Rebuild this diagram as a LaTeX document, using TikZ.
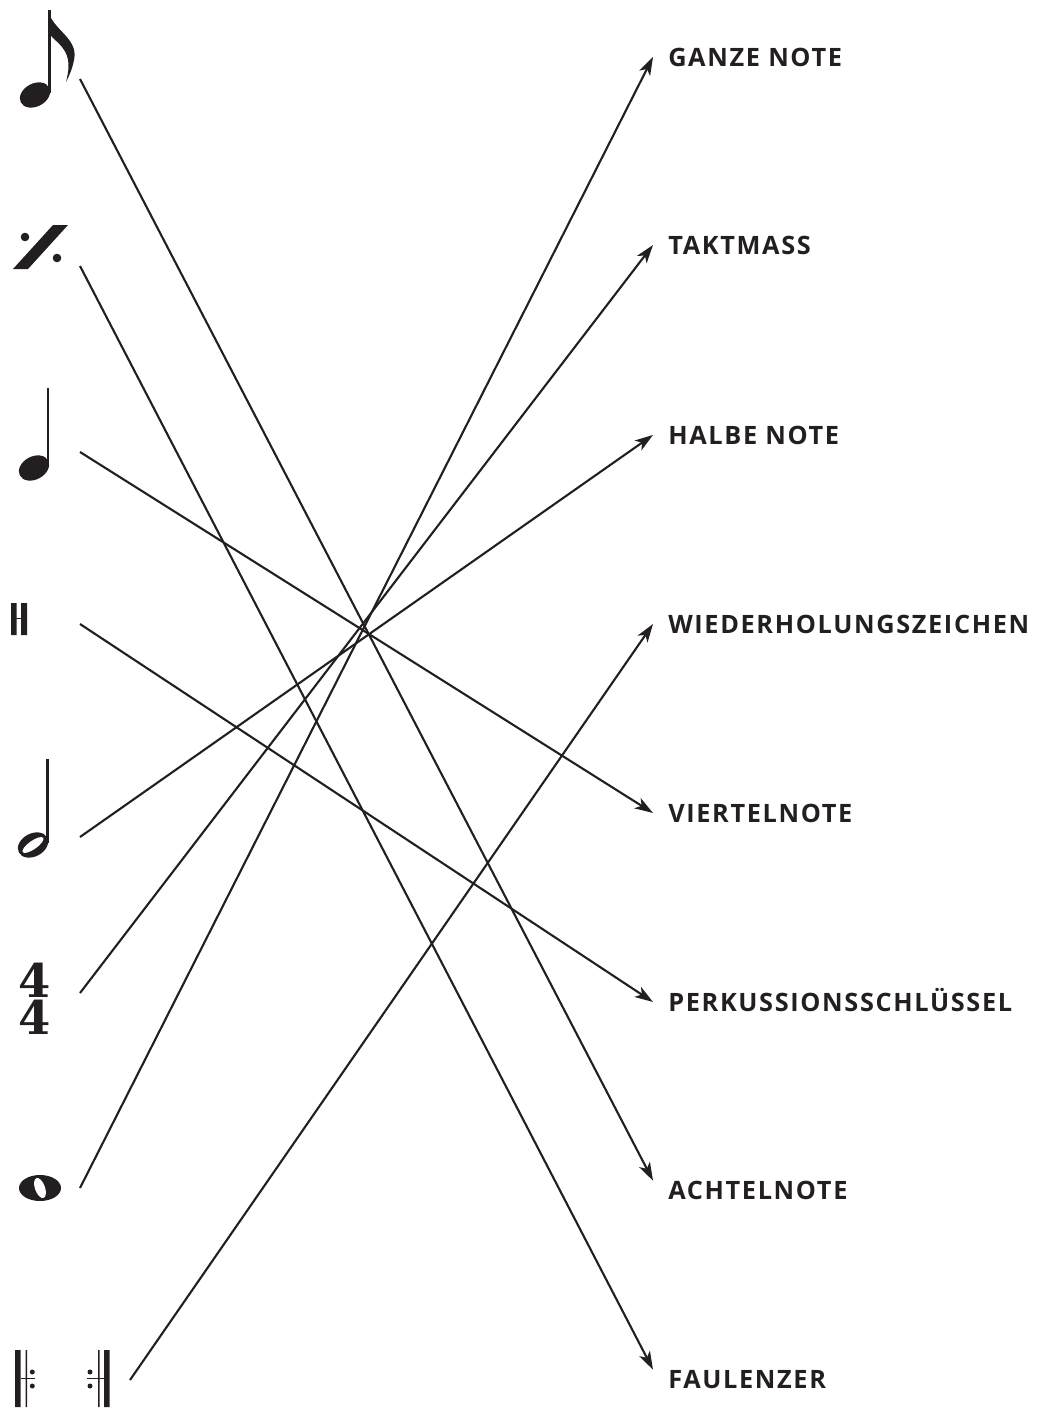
\documentclass[tikz,border=0pt]{standalone}
\usepackage{fontspec}
\newfontfamily\begriffFont{Open Sans}[LetterSpace=6.5]
\newfontfamily\taktFont{DejaVu Serif}
\usepackage{tikz}
\usetikzlibrary{arrows.meta}
\definecolor{ink}{HTML}{231F20}
\tikzset{>={Stealth[length=13pt,width=8.5pt,inset=3.5pt]}}
\tikzset{
  begriff/.style={anchor=base west, inner xsep=0.375cm, inner ysep=0pt,
    text height=12.85pt, text depth=0pt, text=ink,
    font=\begriffFont\bfseries\fontsize{18}{20}\selectfont},
  takt/.style={inner sep=0pt, align=center, text=ink,
    font=\taktFont\bfseries\fontsize{33}{26.2}\selectfont},
  pfeil/.style={ink, line width=1.5pt, ->}
}

\begin{document}
\begin{tikzpicture}[x=0.025cm, y=-0.025cm]
  \useasboundingbox (0,0) rectangle (1038,1408);
  % Symbole links
  % Achtelnote
  \fill[ink] (48,10) rectangle (50.5,93);
  \fill[ink, rotate around={28:(35,95)}] (35,95) ellipse [x radius=16, y radius=11.5];
  \fill[ink] (48,10) .. controls (52,30) and (79,38) .. (74,60) .. controls (72,70) and (69,76) .. (66,82)
    .. controls (69,70) and (71,58) .. (62,47) .. controls (56,40) and (51,37) .. (50,34) -- cycle;
  \coordinate (achtelsym) at (80,79);
  % Faulenzer
  \fill[ink] (13,269) -- (28,269) -- (68,225) -- (53,225) -- cycle;
  \fill[ink] (25,237) circle [radius=4.3] (57,258) circle [radius=4.3];
  \coordinate (faulsym) at (80,266);
  % Viertelnote
  \fill[ink] (46.5,388) rectangle (49,466);
  \fill[ink, rotate around={28:(34,468)}] (34,468) ellipse [x radius=16, y radius=11.5];
  \coordinate (viertelsym) at (80,452);
  % Perkussionsschluessel
  \fill[ink] (11,603) rectangle (16.5,635) (21,603) rectangle (27,635);
  \draw[ink, thin] (16,618) -- (21.5,618);
  \coordinate (perksym) at (80,624);
  % Halbe Note
  \fill[ink] (46,759) rectangle (48.5,843);
  \fill[ink, rotate around={28:(33,845)}] (33,845) ellipse [x radius=16, y radius=11.5];
  \fill[white, rotate around={35:(33,845)}] (33,845) ellipse [x radius=12.5, y radius=4.2];
  \coordinate (halbesym) at (80,837);
  % Taktmass
  \node[takt] (vier) at (35,998.5) {4\\4};
  \coordinate (taktsym) at (80,993);
  % Ganze Note
  \fill[ink] (40,1188) ellipse [x radius=21, y radius=13];
  \fill[white, rotate around={20:(40,1188)}] (40,1188) ellipse [x radius=5, y radius=10.5];
  \coordinate (ganzesym) at (80,1188);
  % Wiederholungszeichen
  \fill[ink] (15,1350) rectangle (20.5,1407) (25.5,1350) rectangle (27,1407);
  \fill[ink] (32.3,1372) circle [radius=2.5] (32.3,1386) circle [radius=2.5];
  \draw[ink, thin] (20.5,1378) -- (35,1378);
  \fill[ink] (90,1372) circle [radius=2.5] (90,1386) circle [radius=2.5];
  \fill[ink] (98.2,1350) rectangle (99.7,1407) (104,1350) rectangle (109.5,1407);
  \draw[ink, thin] (87,1378) -- (104,1378);
  \coordinate (wdhsym) at (130,1380);

  % Begriffe rechts
  \node[begriff] (ganze) at (653,66) {GANZE NOTE};
  \node[begriff] (taktmass) at (653,254) {TAKTMASS};
  \node[begriff] (halbe) at (653,444) {HALBE NOTE};
  \node[begriff] (wiederholung) at (653,633) {WIEDERHOLUNGSZEICHEN};
  \node[begriff] (viertel) at (653,822) {VIERTELNOTE};
  \node[begriff] (perkussion) at (653,1011) {PERKUSSIONSSCHLÜSSEL};
  \node[begriff] (achtel) at (653,1199) {ACHTELNOTE};
  \node[begriff] (faulenzer) at (653,1388) {FAULENZER};

  % Zuordnungen
  \draw[pfeil] (achtelsym) -- (achtel.north west);
  \draw[pfeil] (faulsym) -- (faulenzer.north west);
  \draw[pfeil] (viertelsym) -- (viertel.west);
  \draw[pfeil] (perksym) -- (perkussion.west);
  \draw[pfeil] (halbesym) -- (halbe.west);
  \draw[pfeil] (taktsym) -- (taktmass.west);
  \draw[pfeil] (ganzesym) -- (ganze.west);
  \draw[pfeil] (wdhsym) -- (wiederholung.west);
\end{tikzpicture}
\end{document}
